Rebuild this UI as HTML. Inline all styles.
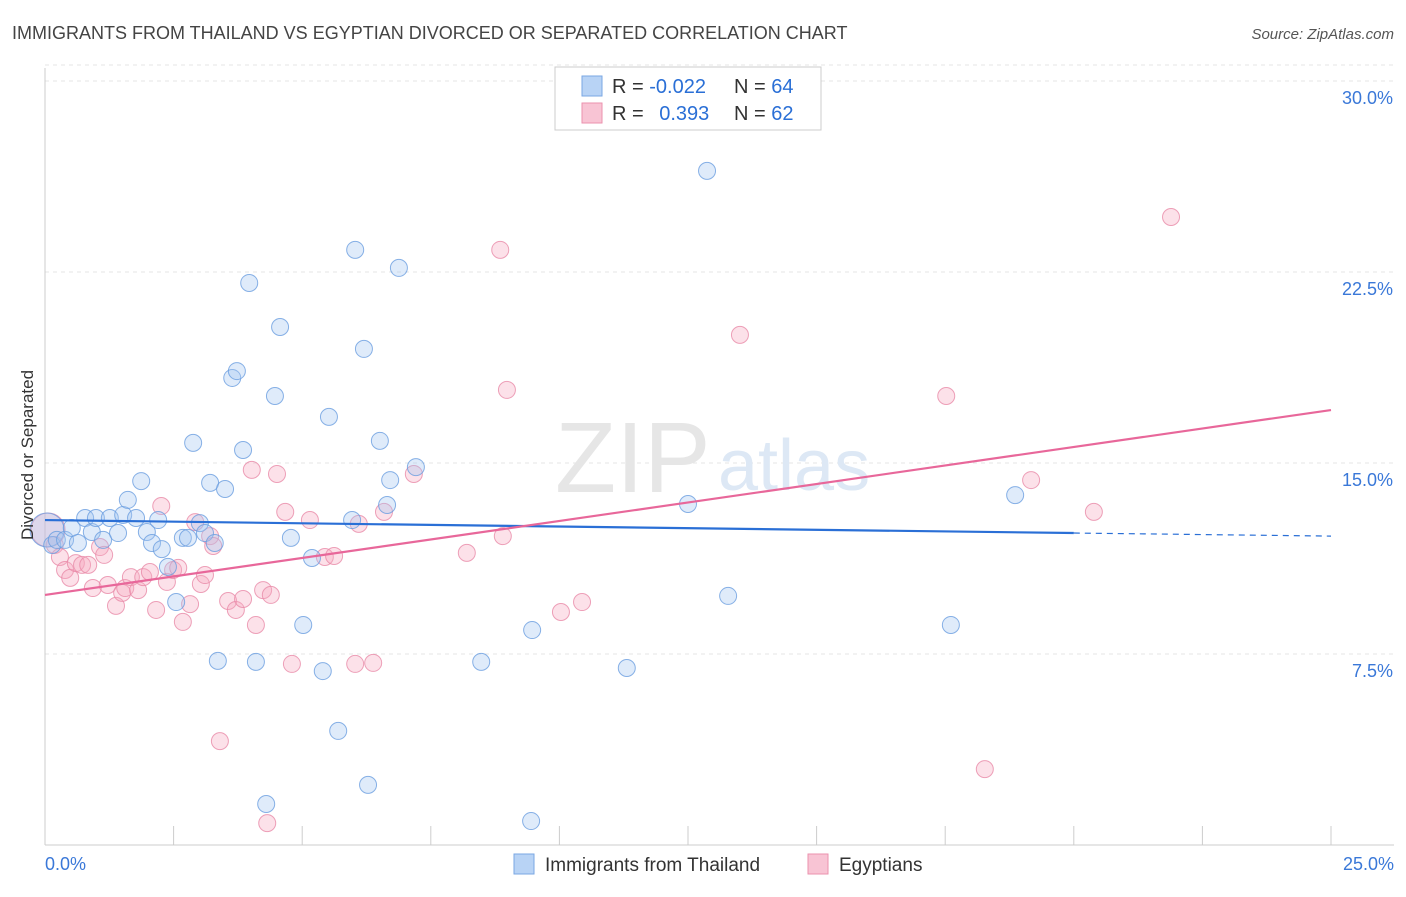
<!DOCTYPE html>
<html><head><meta charset="utf-8"><style>
body{margin:0;background:#fff;font-family:"Liberation Sans",sans-serif;}
svg text{font-family:"Liberation Sans",sans-serif;}
</style></head><body>
<svg id="chart" width="1406" height="892" xmlns="http://www.w3.org/2000/svg">
<text x="12" y="39" font-size="18" fill="#444">IMMIGRANTS FROM THAILAND VS EGYPTIAN DIVORCED OR SEPARATED CORRELATION CHART</text>
<text x="1394" y="39" font-size="15" fill="#555" font-style="italic" text-anchor="end">Source: ZipAtlas.com</text>
<g id="grid"></g>
<g id="axes"></g>
<text x="555" y="492" font-size="100" fill="#e6e6e6" font-family="Liberation Serif">ZIP</text>
<text x="718" y="490" font-size="72" fill="#dde8f5">atlas</text>
<g id="pts"></g>
<g id="trend"></g>
<text transform="translate(33,455) rotate(-90)" font-size="17" fill="#333" text-anchor="middle">Divorced or Separated</text>
<g>
<rect x="555" y="67" width="266" height="63" fill="#fff" stroke="#ccc"/>
<rect x="582" y="76" width="20" height="20" fill="#b8d3f5" stroke="#7aa7e3"/>
<rect x="582" y="103" width="20" height="20" fill="#f8c4d4" stroke="#eb92ae"/>
<text x="612" y="93" font-size="20" fill="#333">R = <tspan fill="#2a6fd6">-0.022</tspan></text>
<text x="734" y="93" font-size="20" fill="#333">N = <tspan fill="#2a6fd6">64</tspan></text>
<text x="612" y="120" font-size="20" fill="#333">R = <tspan fill="#2a6fd6" dx="10">0.393</tspan></text>
<text x="734" y="120" font-size="20" fill="#333">N = <tspan fill="#2a6fd6">62</tspan></text>
</g>
<g>
<rect x="514" y="854" width="20" height="20" fill="#b8d3f5" stroke="#7aa7e3"/>
<text x="545" y="871" font-size="19" fill="#333">Immigrants from Thailand</text>
<rect x="808" y="854" width="20" height="20" fill="#f8c4d4" stroke="#eb92ae"/>
<text x="839" y="871" font-size="19" fill="#333">Egyptians</text>
</g>
</svg>
<script>
const yTicks=[7.5,15,22.5,30];
const yTickLabels=["7.5%","15.0%","22.5%","30.0%"];
const xTicks=[0,2.5,5,7.5,10,12.5,15,17.5,20,22.5,25];
const xEndLabels=["0.0%","25.0%"];
const thaiX=[0.04,0.14,0.23,0.39,0.52,0.64,0.78,0.91,0.99,1.13,1.26,1.42,1.52,1.61,1.77,1.87,1.98,2.08,2.20,2.27,2.39,2.55,2.68,2.78,2.88,3.01,3.11,3.21,3.30,3.36,3.50,3.64,3.73,3.85,3.97,4.10,4.30,4.47,4.57,4.78,5.02,5.19,5.40,5.52,5.70,5.97,6.03,6.20,6.28,6.51,6.65,6.71,6.88,7.21,8.48,9.45,9.47,11.31,12.50,12.87,13.28,17.61,18.86];
const thaiY=[12.37,11.78,11.98,11.98,12.45,11.86,12.84,12.29,12.84,11.98,12.84,12.25,12.96,13.55,12.84,14.29,12.29,11.86,12.76,11.62,10.92,9.54,12.06,12.06,15.79,12.64,12.25,14.22,11.86,7.23,13.98,18.34,18.61,15.51,22.07,7.19,1.61,17.63,20.34,12.06,8.64,11.27,6.83,16.81,4.48,12.76,23.37,19.48,2.36,15.87,13.35,14.33,22.66,14.84,7.19,0.94,8.44,6.95,13.39,26.47,9.78,8.64,13.74];
const egyX=[0.06,0.19,0.29,0.39,0.49,0.60,0.72,0.84,0.93,1.07,1.15,1.22,1.38,1.50,1.56,1.67,1.81,1.91,2.04,2.16,2.26,2.37,2.49,2.59,2.68,2.82,2.92,3.03,3.11,3.21,3.27,3.40,3.56,3.71,3.85,4.02,4.10,4.24,4.39,4.51,4.67,4.80,5.15,5.44,5.62,6.03,6.10,6.38,6.59,7.17,8.20,8.85,8.90,8.98,10.03,10.44,13.51,17.52,18.27,19.17,20.39,21.89,4.32];
const egyY=[12.37,11.78,11.31,10.80,10.49,11.07,11.00,11.00,10.09,11.70,11.39,10.21,9.39,9.90,10.09,10.52,10.01,10.52,10.72,9.23,13.31,10.33,10.80,10.88,8.76,9.46,12.68,10.25,10.60,12.13,11.74,4.08,9.58,9.23,9.66,14.73,8.64,10.01,9.82,14.57,13.08,7.11,12.76,11.31,11.35,7.11,12.61,7.15,13.08,14.57,11.47,23.37,12.13,17.87,9.15,9.54,20.03,17.63,2.98,14.33,13.08,24.66,0.86];
const thaiTrendX=[0,20,25];
const thaiTrendY=[12.76,12.25,12.13];
const egyTrendX=[0,25];
const egyTrendY=[9.82,17.08];

const NS="http://www.w3.org/2000/svg";
const X0=45,X1=1331,Y0=845,PXPER=(845-654)/7.5;
function sx(v){return X0+v/25*(X1-X0);}
function sy(v){return Y0-v*PXPER;}
function mk(tag,attrs,parent){const e=document.createElementNS(NS,tag);for(const k in attrs)e.setAttribute(k,attrs[k]);parent.appendChild(e);return e;}
const grid=document.getElementById('grid'),axes=document.getElementById('axes'),pts=document.getElementById('pts'),trend=document.getElementById('trend');
mk('line',{x1:X0,x2:1394,y1:sy(30)-16,y2:sy(30)-16,stroke:'#e4e4e4','stroke-dasharray':'4,4'},grid);
yTicks.forEach((t,i)=>{
  const l=mk('line',{x1:X0,x2:1394,y1:sy(t),y2:sy(t),stroke:'#e4e4e4','stroke-dasharray':'4,4'},grid);
  
  
  const tx=mk('text',{x:1393,y:sy(t)+23,'font-size':18,fill:'#3a78d8','text-anchor':'end'},axes);
  tx.textContent=yTickLabels[i];
  
  
});
mk('line',{x1:X0,x2:X0,y1:68,y2:Y0,stroke:'#ccc'},axes);
mk('line',{x1:X0,x2:1394,y1:Y0,y2:Y0,stroke:'#ccc'},axes);
xTicks.forEach(t=>{
  const l=mk('line',{x1:sx(t),x2:sx(t),y1:826,y2:Y0,stroke:'#ccc'},axes);
  
  
});
[[0,'start',45],[25,'end',1394]].forEach((a,i)=>{
  const tx=mk('text',{x:a[2],y:870,'font-size':18,fill:'#3a78d8','text-anchor':a[1]},axes);
  tx.textContent=xEndLabels[i];
  
  
});
function drawPts(xs,ys,fill,stroke,name){
  xs.forEach((x,i)=>{
    const c=mk('circle',{cx:sx(x),cy:sy(ys[i]),r:(i===0?17:8.5),fill:fill,'fill-opacity':0.35,stroke:stroke,'stroke-opacity':0.8,'stroke-width':1},pts);
    
    
  });
}
drawPts(egyX,egyY,'#f5a9c1','#e88aa8','egyptians-point');
drawPts(thaiX,thaiY,'#a3c5f0','#6a9ee0','thailand-point');
let l=mk('line',{x1:sx(thaiTrendX[0]),y1:sy(thaiTrendY[0]),x2:sx(thaiTrendX[1]),y2:sy(thaiTrendY[1]),stroke:'#2a6fd6','stroke-width':2.2},trend);


l=mk('line',{x1:sx(thaiTrendX[1]),y1:sy(thaiTrendY[1]),x2:sx(thaiTrendX[2]),y2:sy(thaiTrendY[2]),stroke:'#2a6fd6','stroke-width':1.2,'stroke-dasharray':'6,5'},trend);


l=mk('line',{x1:sx(egyTrendX[0]),y1:sy(egyTrendY[0]),x2:sx(egyTrendX[1]),y2:sy(egyTrendY[1]),stroke:'#e8679a','stroke-width':2.2},trend);


</script>
</body></html>
